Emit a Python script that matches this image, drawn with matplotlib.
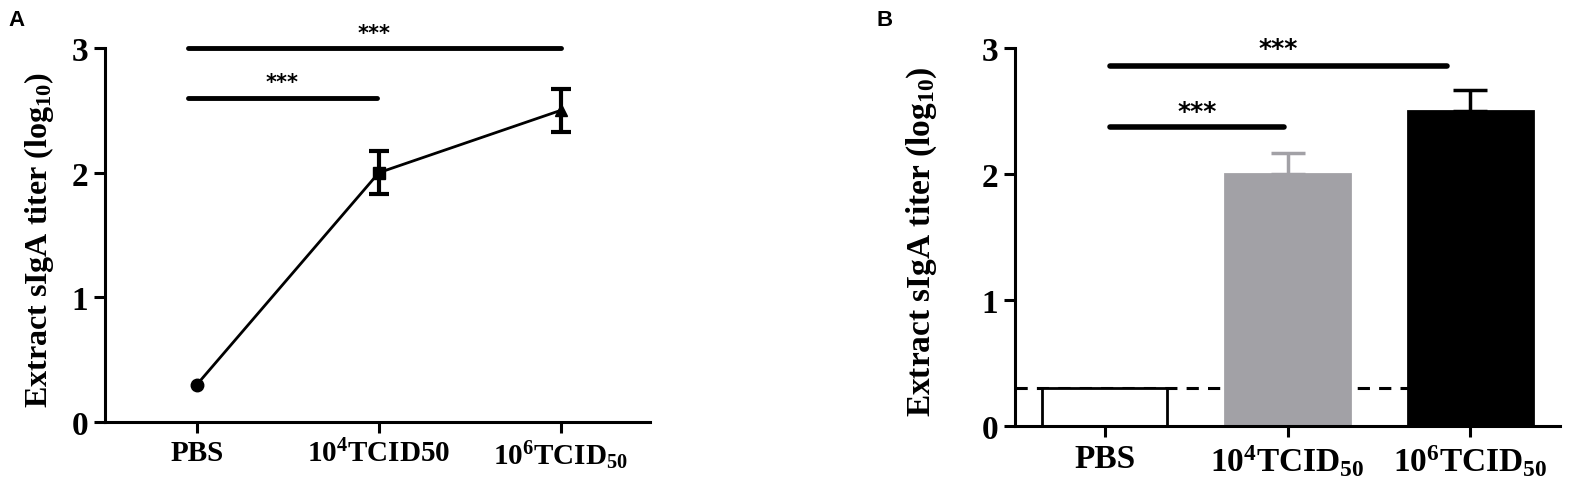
import numpy as np
import matplotlib
matplotlib.use('Agg')
import matplotlib.pyplot as plt

plt.rcParams['font.family'] = ['Liberation Serif', 'DejaVu Serif']
plt.rcParams['font.weight'] = 'bold'
plt.rcParams['mathtext.fontset'] = 'custom'
plt.rcParams['mathtext.rm'] = 'Liberation Serif:bold'
plt.rcParams['mathtext.bf'] = 'Liberation Serif:bold'
plt.rcParams['mathtext.it'] = 'Liberation Serif:bold'

# data
groups_a = ['PBS', '10$^{4}$TCID50', '10$^{6}$TCID$_{50}$']
groups_b = ['PBS', '10$^{4}$TCID$_{50}$', '10$^{6}$TCID$_{50}$']
titer = [0.3, 2.0, 2.5]
err_a = [0.0, 0.17, 0.175]
err_b = [0.0, 0.17, 0.17]
markers = ['o', 's', '^']
bar_colors = ['white', '#a2a1a6', 'black']
detect_limit = 0.3
ylabel = 'Extract sIgA titer (log$_{10}$)'

W, H = 1571, 485
fig = plt.figure(figsize=(W / 100, H / 100), dpi=100)

def px_axes(x0, x1, y_top, y_bot):
    return fig.add_axes([x0 / W, 1 - y_bot / H, (x1 - x0) / W, (y_bot - y_top) / H])

def style(ax, tick_size):
    for s in ['top', 'right']:
        ax.spines[s].set_visible(False)
    for s in ['left', 'bottom']:
        ax.spines[s].set_linewidth(2.2)
    ax.tick_params(width=2.2, length=8, labelsize=tick_size, pad=4)
    ax.set_ylim(0, 3)
    ax.set_yticks([0, 1, 2, 3])

def sig(ax, x0, x1, y, ystar, lw, fs):
    ax.plot([x0, x1], [y, y], color='black', lw=lw, solid_capstyle='round', clip_on=False)
    ax.text((x0 + x1) / 2, ystar, '***', ha='center', va='center', fontsize=fs,
            family='DejaVu Sans', weight='bold', clip_on=False)

x = np.arange(3)

# ---- panel A: line plot ----
axA = px_axes(105, 650, 49, 423)
style(axA, 24)
axA.plot(x, titer, color='black', lw=2, zorder=2)
for i in range(3):
    axA.errorbar(x[i], titer[i], yerr=err_a[i] if err_a[i] > 0 else None, fmt=markers[i],
                 color='black', ms=9, capsize=7, capthick=3, elinewidth=3, zorder=3)
axA.set_xlim(-0.505, 2.49)
axA.set_xticks(x)
axA.set_xticklabels(groups_a, fontsize=21)
axA.set_ylabel(ylabel, fontsize=23, fontweight='bold')
axA.yaxis.set_label_coords(-0.09, 0.49)
sig(axA, -0.05, 2.0, 3.0, 3.12, 3.5, 15)
sig(axA, -0.05, 0.99, 2.6, 2.73, 3.5, 15)

# ---- panel B: bar plot ----
axB = px_axes(1015, 1560, 49, 427)
style(axB, 24)
axB.bar(x, titer, width=0.68, color=bar_colors, edgecolor=['black', '#a2a1a6', 'black'],
        linewidth=2, zorder=2)
for i in range(1, 3):
    axB.errorbar(x[i], titer[i], yerr=[[0], [err_b[i]]], fmt='none',
                 ecolor=bar_colors[i], capsize=12, capthick=2.5, elinewidth=2.5, zorder=1)
axB.plot([-0.49, 2 - 0.34], [detect_limit, detect_limit], color='black', lw=2.2,
         ls=(0, (4, 3)), zorder=1)
axB.set_xlim(-0.49, 2.49)
axB.set_xticks(x)
axB.set_xticklabels(groups_b, fontsize=24)
axB.set_ylabel(ylabel, fontsize=24, fontweight='bold')
axB.yaxis.set_label_coords(-0.14, 0.49)
sig(axB, 0.03, 1.87, 2.86, 3.0, 4, 18)
sig(axB, 0.03, 0.98, 2.37, 2.5, 4, 18)

fig.text(8 / W, 1 - 20 / H, 'A', fontsize=16, family='Liberation Sans', weight='bold', va='center')
fig.text(876 / W, 1 - 20 / H, 'B', fontsize=16, family='Liberation Sans', weight='bold', va='center')

fig.savefig('out.png', dpi=100)
